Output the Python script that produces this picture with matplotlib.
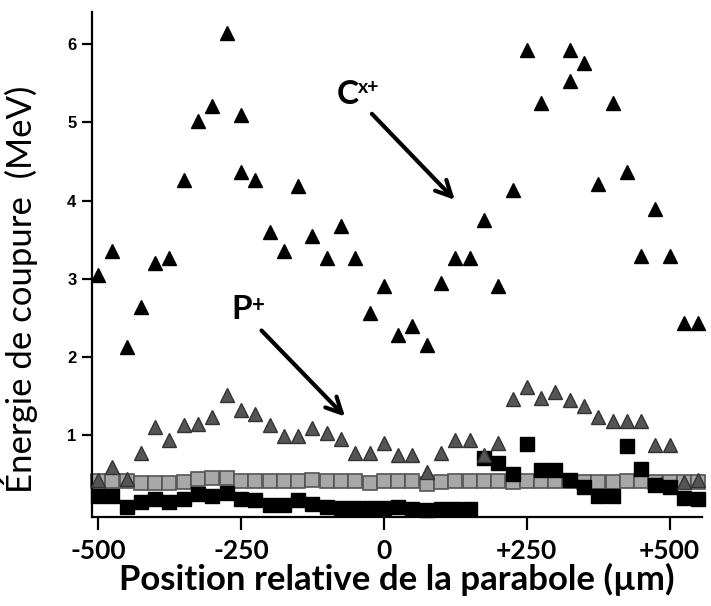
import matplotlib.pyplot as plt

# C^x+ cut-off energies (black triangles)
c_x = [-500, -475, -450, -425, -400, -375, -350, -325, -300, -275, -250, -250,
       -225, -200, -175, -150, -125, -100, -75, -50, -25, 0, 25, 50, 75, 100,
       125, 150, 175, 200, 225, 250, 275, 325, 325, 350, 375, 400, 425, 450,
       475, 500, 525, 550]
c_y = [3.05, 3.35, 2.13, 2.64, 3.20, 3.27, 4.26, 5.02, 5.21, 6.14, 5.09, 4.37,
       4.26, 3.60, 3.36, 4.19, 3.55, 3.27, 3.67, 3.27, 2.57, 2.91, 2.28, 2.40,
       2.15, 2.95, 3.27, 3.27, 3.75, 2.91, 4.13, 5.92, 5.25, 5.92, 5.53, 5.76,
       4.21, 5.25, 4.36, 3.29, 3.89, 3.29, 2.44, 2.44]

# common positions for the other series
pos = [-500, -475, -450, -425, -400, -375, -350, -325, -300, -275, -250, -225,
       -200, -175, -150, -125, -100, -75, -50, -25, 0, 25, 50, 75, 100, 125,
       150, 175, 200, 225, 250, 275, 300, 325, 350, 375, 400, 425, 450, 475,
       500, 525, 550]

# P+ cut-off energies (grey triangles)
p_y = [0.43, 0.59, 0.44, 0.78, 1.11, 0.94, 1.13, 1.14, 1.24, 1.51, 1.33, 1.27,
       1.13, 0.99, 0.99, 1.09, 1.03, 0.95, 0.78, 0.78, 0.90, 0.75, 0.75, 0.53,
       0.78, 0.94, 0.94, 0.75, 0.90, 1.47, 1.62, 1.48, 1.56, 1.45, 1.38, 1.23,
       1.18, 1.18, 1.18, 0.87, 0.87, 0.40, 0.43]

# grey squares
g_y = [0.42, 0.42, 0.42, 0.39, 0.39, 0.39, 0.40, 0.44, 0.45, 0.45, 0.41, 0.41,
       0.41, 0.42, 0.42, 0.43, 0.42, 0.42, 0.41, 0.39, 0.41, 0.41, 0.42, 0.38,
       0.40, 0.41, 0.41, 0.41, 0.41, 0.40, 0.41, 0.42, 0.42, 0.41, 0.40, 0.40,
       0.40, 0.41, 0.41, 0.40, 0.40, 0.40, 0.40]

# black squares
b_y = [0.23, 0.23, 0.08, 0.15, 0.19, 0.15, 0.19, 0.25, 0.22, 0.26, 0.19, 0.17,
       0.11, 0.11, 0.17, 0.12, 0.08, 0.07, 0.07, 0.07, 0.07, 0.08, 0.06, 0.04,
       0.06, 0.06, 0.06, 0.71, 0.64, 0.51, 0.89, 0.56, 0.56, 0.43, 0.34, 0.22,
       0.22, 0.86, 0.57, 0.37, 0.34, 0.20, 0.19]

xticks = [-500, -250, 0, 250, 500]
xtick_labels = ['-500', '-250', '0', '+250', '+500']
yticks = [1, 2, 3, 4, 5, 6]

fig = plt.figure(figsize=(7.11, 6.06), dpi=100)
ax = fig.add_axes([0.129, 0.147, 0.858, 0.833])

ax.plot(pos, g_y, 's', ms=10.5, mfc='#a8a8a8', mec='#555555', mew=1.2,
        clip_on=False, zorder=2)
ax.plot(pos, b_y, 's', ms=10.5, mfc='black', mec='black', clip_on=False, zorder=3)
ax.plot(pos, p_y, '^', ms=10, mfc='#555555', mec='#333333', mew=1,
        clip_on=False, zorder=4)
ax.plot(c_x, c_y, '^', ms=10, mfc='black', mec='black', clip_on=False, zorder=5)

ax.set_xlim(-511, 556)
ax.set_ylim(-0.043, 6.41)

for s in ['top', 'right']:
    ax.spines[s].set_visible(False)
for s in ['left', 'bottom']:
    ax.spines[s].set_linewidth(1.6)

ax.set_xticks(xticks)
ax.set_xticklabels(xtick_labels, fontsize=19, fontweight='bold', family='Lato')
ax.set_yticks(yticks)
ax.set_yticklabels([str(v) for v in yticks], fontsize=12, fontweight='bold',
                   family='Liberation Sans')
ax.tick_params(axis='x', length=9, width=1.6, pad=7)
ax.tick_params(axis='y', length=7, width=1.6, pad=4)

ax.set_xlabel('Position relative de la parabole (\u00b5m)', fontsize=25,
              fontweight='bold', family='Lato', labelpad=0)
ax.set_ylabel('\u00c9nergie de coupure  (MeV)', fontsize=25, family='Lato',
              fontweight='normal')
ax.yaxis.set_label_coords(-0.088, 0.45)

# annotations
arrow = dict(arrowstyle='->', lw=3, color='black', mutation_scale=28,
             shrinkA=0, shrinkB=0)
ax.annotate('', xy=(124, 4.01), xytext=(-21, 5.11), arrowprops=arrow)
ax.annotate('', xy=(-68, 1.24), xytext=(-214, 2.34), arrowprops=arrow)

ax.text(-63, 5.36, 'C', fontsize=24, fontweight='bold', family='Lato',
        ha='center', va='center')
ax.text(-45, 5.55, 'x+', fontsize=14, fontweight='bold', family='Lato',
        ha='left', va='top')
ax.text(-249, 2.61, 'P', fontsize=24, fontweight='bold', family='Lato',
        ha='center', va='center')
ax.text(-231, 2.80, '+', fontsize=16, fontweight='bold', family='Lato',
        ha='left', va='top')

fig.savefig('out.png', dpi=100)
